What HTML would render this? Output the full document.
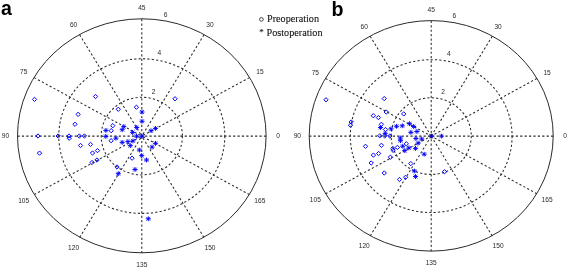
<!DOCTYPE html>
<html><head><meta charset="utf-8"><style>
html,body{margin:0;padding:0;background:#fff;}
body{width:567px;height:268px;overflow:hidden;}
svg{display:block;will-change:transform;}
.t{font-family:"Liberation Sans",sans-serif;font-size:7.7px;fill:#2a2a2a;}
.lg{font-family:"Liberation Serif",serif;font-size:10.2px;fill:#111;stroke:#111;stroke-width:0.1px;}
.pl{font-family:"Liberation Sans",sans-serif;font-weight:bold;font-size:20.5px;fill:#000;}
.d{fill:none;stroke:#0000ff;stroke-width:1.0;stroke-linejoin:round;}
.a{fill:none;stroke:#0000ff;stroke-width:0.95;}
.ax{fill:none;stroke:#0000ff;stroke-width:0.85;}
</style></head><body>
<svg width="567" height="268" viewBox="0 0 567 268">
<defs><filter id="bl" x="0" y="0" width="100%" height="100%"><feGaussianBlur stdDeviation="0.35"/></filter></defs>
<rect width="567" height="268" fill="#fff"/>
<g filter="url(#bl)">
<ellipse cx="141.8" cy="136.1" rx="40.60" ry="38.80" fill="none" stroke="#2a2a2a" stroke-width="1.05" stroke-dasharray="2.2 2.2"/>
<ellipse cx="141.8" cy="136.1" rx="83.00" ry="77.30" fill="none" stroke="#2a2a2a" stroke-width="1.05" stroke-dasharray="2.2 2.2"/>
<line x1="266.10" y1="136.10" x2="141.80" y2="136.10" stroke="#2a2a2a" stroke-width="1.05" stroke-dasharray="2.2 2.2"/>
<line x1="249.45" y1="77.60" x2="141.80" y2="136.10" stroke="#2a2a2a" stroke-width="1.05" stroke-dasharray="2.2 2.2"/>
<line x1="203.95" y1="34.78" x2="141.80" y2="136.10" stroke="#2a2a2a" stroke-width="1.05" stroke-dasharray="2.2 2.2"/>
<line x1="141.80" y1="19.10" x2="141.80" y2="136.10" stroke="#2a2a2a" stroke-width="1.05" stroke-dasharray="2.2 2.2"/>
<line x1="79.65" y1="34.78" x2="141.80" y2="136.10" stroke="#2a2a2a" stroke-width="1.05" stroke-dasharray="2.2 2.2"/>
<line x1="34.15" y1="77.60" x2="141.80" y2="136.10" stroke="#2a2a2a" stroke-width="1.05" stroke-dasharray="2.2 2.2"/>
<line x1="17.50" y1="136.10" x2="141.80" y2="136.10" stroke="#2a2a2a" stroke-width="1.05" stroke-dasharray="2.2 2.2"/>
<line x1="34.15" y1="194.60" x2="141.80" y2="136.10" stroke="#2a2a2a" stroke-width="1.05" stroke-dasharray="2.2 2.2"/>
<line x1="79.65" y1="237.42" x2="141.80" y2="136.10" stroke="#2a2a2a" stroke-width="1.05" stroke-dasharray="2.2 2.2"/>
<line x1="141.80" y1="253.10" x2="141.80" y2="136.10" stroke="#2a2a2a" stroke-width="1.05" stroke-dasharray="2.2 2.2"/>
<line x1="203.95" y1="237.42" x2="141.80" y2="136.10" stroke="#2a2a2a" stroke-width="1.05" stroke-dasharray="2.2 2.2"/>
<line x1="249.45" y1="194.60" x2="141.80" y2="136.10" stroke="#2a2a2a" stroke-width="1.05" stroke-dasharray="2.2 2.2"/>
<ellipse cx="141.8" cy="135.8" rx="124.3" ry="117.0" fill="none" stroke="#2a2a2a" stroke-width="1"/>
<text transform="translate(278.16 138.41) scale(0.86 1)" text-anchor="middle" class="t">0</text>
<text transform="translate(259.89 74.23) scale(0.86 1)" text-anchor="middle" class="t">15</text>
<text transform="translate(209.98 27.25) scale(0.86 1)" text-anchor="middle" class="t">30</text>
<text transform="translate(141.80 10.06) scale(0.86 1)" text-anchor="middle" class="t">45</text>
<text transform="translate(73.62 27.25) scale(0.86 1)" text-anchor="middle" class="t">60</text>
<text transform="translate(23.71 74.23) scale(0.86 1)" text-anchor="middle" class="t">75</text>
<text transform="translate(5.44 138.41) scale(0.86 1)" text-anchor="middle" class="t">90</text>
<text transform="translate(23.71 202.58) scale(0.86 1)" text-anchor="middle" class="t">105</text>
<text transform="translate(73.62 249.56) scale(0.86 1)" text-anchor="middle" class="t">120</text>
<text transform="translate(141.80 266.76) scale(0.86 1)" text-anchor="middle" class="t">135</text>
<text transform="translate(209.98 249.56) scale(0.86 1)" text-anchor="middle" class="t">150</text>
<text transform="translate(259.89 202.58) scale(0.86 1)" text-anchor="middle" class="t">165</text>
<text transform="translate(153.70 93.56) scale(0.86 1)" text-anchor="middle" class="t">2</text>
<text transform="translate(159.40 55.16) scale(0.86 1)" text-anchor="middle" class="t">4</text>
<text transform="translate(165.70 17.16) scale(0.86 1)" text-anchor="middle" class="t">6</text>
</g><g>
<path d="M32.35 99.40L34.50 97.25L36.65 99.40L34.50 101.55Z" class="d"/>
<path d="M93.35 96.50L95.50 94.35L97.65 96.50L95.50 98.65Z" class="d"/>
<path d="M172.85 98.75L175.00 96.60L177.15 98.75L175.00 100.90Z" class="d"/>
<path d="M75.95 114.40L78.10 112.25L80.25 114.40L78.10 116.55Z" class="d"/>
<path d="M72.85 124.25L75.00 122.10L77.15 124.25L75.00 126.40Z" class="d"/>
<path d="M116.15 109.30L118.30 107.15L120.45 109.30L118.30 111.45Z" class="d"/>
<path d="M134.25 107.20L136.40 105.05L138.55 107.20L136.40 109.35Z" class="d"/>
<path d="M110.65 125.70L112.80 123.55L114.95 125.70L112.80 127.85Z" class="d"/>
<path d="M109.05 130.70L111.20 128.55L113.35 130.70L111.20 132.85Z" class="d"/>
<path d="M35.85 136.00L38.00 133.85L40.15 136.00L38.00 138.15Z" class="d"/>
<path d="M56.05 136.00L58.20 133.85L60.35 136.00L58.20 138.15Z" class="d"/>
<path d="M66.85 136.00L69.00 133.85L71.15 136.00L69.00 138.15Z" class="d"/>
<path d="M67.05 138.20L69.20 136.05L71.35 138.20L69.20 140.35Z" class="d"/>
<path d="M77.15 136.00L79.30 133.85L81.45 136.00L79.30 138.15Z" class="d"/>
<path d="M82.25 136.00L84.40 133.85L86.55 136.00L84.40 138.15Z" class="d"/>
<path d="M108.95 140.70L111.10 138.55L113.25 140.70L111.10 142.85Z" class="d"/>
<path d="M37.35 153.10L39.50 150.95L41.65 153.10L39.50 155.25Z" class="d"/>
<path d="M78.35 145.50L80.50 143.35L82.65 145.50L80.50 147.65Z" class="d"/>
<path d="M88.35 144.40L90.50 142.25L92.65 144.40L90.50 146.55Z" class="d"/>
<path d="M90.35 153.00L92.50 150.85L94.65 153.00L92.50 155.15Z" class="d"/>
<path d="M95.35 150.60L97.50 148.45L99.65 150.60L97.50 152.75Z" class="d"/>
<path d="M89.85 162.50L92.00 160.35L94.15 162.50L92.00 164.65Z" class="d"/>
<path d="M94.85 160.00L97.00 157.85L99.15 160.00L97.00 162.15Z" class="d"/>
<path d="M114.85 167.00L117.00 164.85L119.15 167.00L117.00 169.15Z" class="d"/>
<path d="M129.95 158.20L132.10 156.05L134.25 158.20L132.10 160.35Z" class="d"/>
<path d="M139.45 112.00H144.55M142.00 109.60V114.40" class="a"/>
<path d="M140.15 110.15L143.85 113.85M140.15 113.85L143.85 110.15" class="ax"/>
<path d="M139.45 121.30H144.55M142.00 118.90V123.70" class="a"/>
<path d="M140.15 119.45L143.85 123.15M140.15 123.15L143.85 119.45" class="ax"/>
<path d="M121.25 126.60H126.35M123.80 124.20V129.00" class="a"/>
<path d="M121.95 124.75L125.65 128.45M121.95 128.45L125.65 124.75" class="ax"/>
<path d="M119.65 129.70H124.75M122.20 127.30V132.10" class="a"/>
<path d="M120.35 127.85L124.05 131.55M120.35 131.55L124.05 127.85" class="ax"/>
<path d="M134.15 127.50H139.25M136.70 125.10V129.90" class="a"/>
<path d="M134.85 125.65L138.55 129.35M134.85 129.35L138.55 125.65" class="ax"/>
<path d="M103.35 130.40H108.45M105.90 128.00V132.80" class="a"/>
<path d="M104.05 128.55L107.75 132.25M104.05 132.25L107.75 128.55" class="ax"/>
<path d="M148.45 130.80H153.55M151.00 128.40V133.20" class="a"/>
<path d="M149.15 128.95L152.85 132.65M149.15 132.65L152.85 128.95" class="ax"/>
<path d="M152.95 128.40H158.05M155.50 126.00V130.80" class="a"/>
<path d="M153.65 126.55L157.35 130.25M153.65 130.25L157.35 126.55" class="ax"/>
<path d="M130.05 132.40H135.15M132.60 130.00V134.80" class="a"/>
<path d="M130.75 130.55L134.45 134.25M130.75 134.25L134.45 130.55" class="ax"/>
<path d="M103.25 136.40H108.35M105.80 134.00V138.80" class="a"/>
<path d="M103.95 134.55L107.65 138.25M103.95 138.25L107.65 134.55" class="ax"/>
<path d="M113.35 138.20H118.45M115.90 135.80V140.60" class="a"/>
<path d="M114.05 136.35L117.75 140.05M114.05 140.05L117.75 136.35" class="ax"/>
<path d="M133.95 136.20H139.05M136.50 133.80V138.60" class="a"/>
<path d="M134.65 134.35L138.35 138.05M134.65 138.05L138.35 134.35" class="ax"/>
<path d="M139.35 136.20H144.45M141.90 133.80V138.60" class="a"/>
<path d="M140.05 134.35L143.75 138.05M140.05 138.05L143.75 134.35" class="ax"/>
<path d="M119.65 142.40H124.75M122.20 140.00V144.80" class="a"/>
<path d="M120.35 140.55L124.05 144.25M120.35 144.25L124.05 140.55" class="ax"/>
<path d="M125.35 141.60H130.45M127.90 139.20V144.00" class="a"/>
<path d="M126.05 139.75L129.75 143.45M126.05 143.45L129.75 139.75" class="ax"/>
<path d="M130.45 140.90H135.55M133.00 138.50V143.30" class="a"/>
<path d="M131.15 139.05L134.85 142.75M131.15 142.75L134.85 139.05" class="ax"/>
<path d="M127.75 145.60H132.85M130.30 143.20V148.00" class="a"/>
<path d="M128.45 143.75L132.15 147.45M128.45 147.45L132.15 143.75" class="ax"/>
<path d="M152.95 143.30H158.05M155.50 140.90V145.70" class="a"/>
<path d="M153.65 141.45L157.35 145.15M153.65 145.15L157.35 141.45" class="ax"/>
<path d="M149.45 147.10H154.55M152.00 144.70V149.50" class="a"/>
<path d="M150.15 145.25L153.85 148.95M150.15 148.95L153.85 145.25" class="ax"/>
<path d="M136.85 150.00H141.95M139.40 147.60V152.40" class="a"/>
<path d="M137.55 148.15L141.25 151.85M137.55 151.85L141.25 148.15" class="ax"/>
<path d="M139.15 155.60H144.25M141.70 153.20V158.00" class="a"/>
<path d="M139.85 153.75L143.55 157.45M139.85 157.45L143.55 153.75" class="ax"/>
<path d="M143.95 160.00H149.05M146.50 157.60V162.40" class="a"/>
<path d="M144.65 158.15L148.35 161.85M144.65 161.85L148.35 158.15" class="ax"/>
<path d="M115.75 173.70H120.85M118.30 171.30V176.10" class="a"/>
<path d="M116.45 171.85L120.15 175.55M116.45 175.55L120.15 171.85" class="ax"/>
<path d="M132.45 169.50H137.55M135.00 167.10V171.90" class="a"/>
<path d="M133.15 167.65L136.85 171.35M133.15 171.35L136.85 167.65" class="ax"/>
<path d="M145.75 218.80H150.85M148.30 216.40V221.20" class="a"/>
<path d="M146.45 216.95L150.15 220.65M146.45 220.65L150.15 216.95" class="ax"/>
</g><g filter="url(#bl)">
<ellipse cx="431.2" cy="136.1" rx="40.05" ry="38.30" fill="none" stroke="#2a2a2a" stroke-width="1.05" stroke-dasharray="2.2 2.2"/>
<ellipse cx="431.2" cy="136.1" rx="80.90" ry="76.45" fill="none" stroke="#2a2a2a" stroke-width="1.05" stroke-dasharray="2.2 2.2"/>
<line x1="553.20" y1="136.10" x2="431.20" y2="136.10" stroke="#2a2a2a" stroke-width="1.05" stroke-dasharray="2.2 2.2"/>
<line x1="536.86" y1="78.47" x2="431.20" y2="136.10" stroke="#2a2a2a" stroke-width="1.05" stroke-dasharray="2.2 2.2"/>
<line x1="492.20" y1="36.29" x2="431.20" y2="136.10" stroke="#2a2a2a" stroke-width="1.05" stroke-dasharray="2.2 2.2"/>
<line x1="431.20" y1="20.85" x2="431.20" y2="136.10" stroke="#2a2a2a" stroke-width="1.05" stroke-dasharray="2.2 2.2"/>
<line x1="370.20" y1="36.29" x2="431.20" y2="136.10" stroke="#2a2a2a" stroke-width="1.05" stroke-dasharray="2.2 2.2"/>
<line x1="325.54" y1="78.47" x2="431.20" y2="136.10" stroke="#2a2a2a" stroke-width="1.05" stroke-dasharray="2.2 2.2"/>
<line x1="309.20" y1="136.10" x2="431.20" y2="136.10" stroke="#2a2a2a" stroke-width="1.05" stroke-dasharray="2.2 2.2"/>
<line x1="325.54" y1="193.73" x2="431.20" y2="136.10" stroke="#2a2a2a" stroke-width="1.05" stroke-dasharray="2.2 2.2"/>
<line x1="370.20" y1="235.91" x2="431.20" y2="136.10" stroke="#2a2a2a" stroke-width="1.05" stroke-dasharray="2.2 2.2"/>
<line x1="431.20" y1="251.35" x2="431.20" y2="136.10" stroke="#2a2a2a" stroke-width="1.05" stroke-dasharray="2.2 2.2"/>
<line x1="492.20" y1="235.91" x2="431.20" y2="136.10" stroke="#2a2a2a" stroke-width="1.05" stroke-dasharray="2.2 2.2"/>
<line x1="536.86" y1="193.73" x2="431.20" y2="136.10" stroke="#2a2a2a" stroke-width="1.05" stroke-dasharray="2.2 2.2"/>
<ellipse cx="431.2" cy="135.85" rx="122.0" ry="115.25" fill="none" stroke="#2a2a2a" stroke-width="1"/>
<text transform="translate(565.03 138.41) scale(0.86 1)" text-anchor="middle" class="t">0</text>
<text transform="translate(547.10 75.19) scale(0.86 1)" text-anchor="middle" class="t">15</text>
<text transform="translate(498.12 28.92) scale(0.86 1)" text-anchor="middle" class="t">30</text>
<text transform="translate(431.20 11.98) scale(0.86 1)" text-anchor="middle" class="t">45</text>
<text transform="translate(364.28 28.92) scale(0.86 1)" text-anchor="middle" class="t">60</text>
<text transform="translate(315.30 75.19) scale(0.86 1)" text-anchor="middle" class="t">75</text>
<text transform="translate(297.37 138.41) scale(0.86 1)" text-anchor="middle" class="t">90</text>
<text transform="translate(315.30 201.62) scale(0.86 1)" text-anchor="middle" class="t">105</text>
<text transform="translate(364.28 247.90) scale(0.86 1)" text-anchor="middle" class="t">120</text>
<text transform="translate(431.20 264.84) scale(0.86 1)" text-anchor="middle" class="t">135</text>
<text transform="translate(498.12 247.90) scale(0.86 1)" text-anchor="middle" class="t">150</text>
<text transform="translate(547.10 201.62) scale(0.86 1)" text-anchor="middle" class="t">165</text>
<text transform="translate(443.10 94.26) scale(0.86 1)" text-anchor="middle" class="t">2</text>
<text transform="translate(448.90 55.96) scale(0.86 1)" text-anchor="middle" class="t">4</text>
<text transform="translate(454.30 18.16) scale(0.86 1)" text-anchor="middle" class="t">6</text>
</g><g>
<path d="M323.85 99.80L326.00 97.65L328.15 99.80L326.00 101.95Z" class="d"/>
<path d="M382.10 98.60L384.25 96.45L386.40 98.60L384.25 100.75Z" class="d"/>
<path d="M384.05 112.00L386.20 109.85L388.35 112.00L386.20 114.15Z" class="d"/>
<path d="M401.55 113.90L403.70 111.75L405.85 113.90L403.70 116.05Z" class="d"/>
<path d="M371.15 115.70L373.30 113.55L375.45 115.70L373.30 117.85Z" class="d"/>
<path d="M376.25 117.60L378.40 115.45L380.55 117.60L378.40 119.75Z" class="d"/>
<path d="M349.05 122.00L351.20 119.85L353.35 122.00L351.20 124.15Z" class="d"/>
<path d="M348.35 125.20L350.50 123.05L352.65 125.20L350.50 127.35Z" class="d"/>
<path d="M379.25 124.30L381.40 122.15L383.55 124.30L381.40 126.45Z" class="d"/>
<path d="M383.35 129.50L385.50 127.35L387.65 129.50L385.50 131.65Z" class="d"/>
<path d="M377.65 135.80L379.80 133.65L381.95 135.80L379.80 137.95Z" class="d"/>
<path d="M382.55 136.00L384.70 133.85L386.85 136.00L384.70 138.15Z" class="d"/>
<path d="M387.65 136.00L389.80 133.85L391.95 136.00L389.80 138.15Z" class="d"/>
<path d="M363.35 146.30L365.50 144.15L367.65 146.30L365.50 148.45Z" class="d"/>
<path d="M379.25 145.30L381.40 143.15L383.55 145.30L381.40 147.45Z" class="d"/>
<path d="M371.25 155.10L373.40 152.95L375.55 155.10L373.40 157.25Z" class="d"/>
<path d="M376.45 153.50L378.60 151.35L380.75 153.50L378.60 155.65Z" class="d"/>
<path d="M369.05 163.00L371.20 160.85L373.35 163.00L371.20 165.15Z" class="d"/>
<path d="M388.25 157.20L390.40 155.05L392.55 157.20L390.40 159.35Z" class="d"/>
<path d="M390.65 148.50L392.80 146.35L394.95 148.50L392.80 150.65Z" class="d"/>
<path d="M390.95 150.30L393.10 148.15L395.25 150.30L393.10 152.45Z" class="d"/>
<path d="M395.25 147.40L397.40 145.25L399.55 147.40L397.40 149.55Z" class="d"/>
<path d="M404.15 143.80L406.30 141.65L408.45 143.80L406.30 145.95Z" class="d"/>
<path d="M382.10 173.00L384.25 170.85L386.40 173.00L384.25 175.15Z" class="d"/>
<path d="M397.35 179.50L399.50 177.35L401.65 179.50L399.50 181.65Z" class="d"/>
<path d="M403.45 177.30L405.60 175.15L407.75 177.30L405.60 179.45Z" class="d"/>
<path d="M408.65 163.60L410.80 161.45L412.95 163.60L410.80 165.75Z" class="d"/>
<path d="M442.35 171.75L444.50 169.60L446.65 171.75L444.50 173.90Z" class="d"/>
<path d="M377.95 127.50H383.05M380.50 125.10V129.90" class="a"/>
<path d="M378.65 125.65L382.35 129.35M378.65 129.35L382.35 125.65" class="ax"/>
<path d="M382.65 133.40H387.75M385.20 131.00V135.80" class="a"/>
<path d="M383.35 131.55L387.05 135.25M383.35 135.25L387.05 131.55" class="ax"/>
<path d="M388.45 128.80H393.55M391.00 126.40V131.20" class="a"/>
<path d="M389.15 126.95L392.85 130.65M389.15 130.65L392.85 126.95" class="ax"/>
<path d="M393.95 126.30H399.05M396.50 123.90V128.70" class="a"/>
<path d="M394.65 124.45L398.35 128.15M394.65 128.15L398.35 124.45" class="ax"/>
<path d="M399.75 125.80H404.85M402.30 123.40V128.20" class="a"/>
<path d="M400.45 123.95L404.15 127.65M400.45 127.65L404.15 123.95" class="ax"/>
<path d="M406.95 123.70H412.05M409.50 121.30V126.10" class="a"/>
<path d="M407.65 121.85L411.35 125.55M407.65 125.55L411.35 121.85" class="ax"/>
<path d="M411.05 126.50H416.15M413.60 124.10V128.90" class="a"/>
<path d="M411.75 124.65L415.45 128.35M411.75 128.35L415.45 124.65" class="ax"/>
<path d="M408.35 132.40H413.45M410.90 130.00V134.80" class="a"/>
<path d="M409.05 130.55L412.75 134.25M409.05 134.25L412.75 130.55" class="ax"/>
<path d="M414.35 131.50H419.45M416.90 129.10V133.90" class="a"/>
<path d="M415.05 129.65L418.75 133.35M415.05 133.35L418.75 129.65" class="ax"/>
<path d="M397.75 138.00H402.85M400.30 135.60V140.40" class="a"/>
<path d="M398.45 136.15L402.15 139.85M398.45 139.85L402.15 136.15" class="ax"/>
<path d="M397.95 140.70H403.05M400.50 138.30V143.10" class="a"/>
<path d="M398.65 138.85L402.35 142.55M398.65 142.55L402.35 138.85" class="ax"/>
<path d="M413.35 138.50H418.45M415.90 136.10V140.90" class="a"/>
<path d="M414.05 136.65L417.75 140.35M414.05 140.35L417.75 136.65" class="ax"/>
<path d="M419.15 139.00H424.25M421.70 136.60V141.40" class="a"/>
<path d="M419.85 137.15L423.55 140.85M419.85 140.85L423.55 137.15" class="ax"/>
<path d="M428.95 136.10H434.05M431.50 133.70V138.50" class="a"/>
<path d="M429.65 134.25L433.35 137.95M429.65 137.95L433.35 134.25" class="ax"/>
<path d="M438.85 136.10H443.95M441.40 133.70V138.50" class="a"/>
<path d="M439.55 134.25L443.25 137.95M439.55 137.95L443.25 134.25" class="ax"/>
<path d="M415.45 143.20H420.55M418.00 140.80V145.60" class="a"/>
<path d="M416.15 141.35L419.85 145.05M416.15 145.05L419.85 141.35" class="ax"/>
<path d="M400.15 146.20H405.25M402.70 143.80V148.60" class="a"/>
<path d="M400.85 144.35L404.55 148.05M400.85 148.05L404.55 144.35" class="ax"/>
<path d="M406.35 147.90H411.45M408.90 145.50V150.30" class="a"/>
<path d="M407.05 146.05L410.75 149.75M407.05 149.75L410.75 146.05" class="ax"/>
<path d="M412.95 148.40H418.05M415.50 146.00V150.80" class="a"/>
<path d="M413.65 146.55L417.35 150.25M413.65 150.25L417.35 146.55" class="ax"/>
<path d="M402.25 150.60H407.35M404.80 148.20V153.00" class="a"/>
<path d="M402.95 148.75L406.65 152.45M402.95 152.45L406.65 148.75" class="ax"/>
<path d="M421.65 154.20H426.75M424.20 151.80V156.60" class="a"/>
<path d="M422.35 152.35L426.05 156.05M422.35 156.05L426.05 152.35" class="ax"/>
<path d="M411.85 171.00H416.95M414.40 168.60V173.40" class="a"/>
<path d="M412.55 169.15L416.25 172.85M412.55 172.85L416.25 169.15" class="ax"/>
<path d="M412.95 176.50H418.05M415.50 174.10V178.90" class="a"/>
<path d="M413.65 174.65L417.35 178.35M413.65 178.35L417.35 174.65" class="ax"/>
</g><g filter="url(#bl)">
</g><g>
<circle cx="261.4" cy="19.4" r="1.85" fill="none" stroke="#111" stroke-width="0.75"/>
<text x="267.0" y="22.2" class="lg">Preoperation</text>
<text x="259.2" y="35.3" class="lg" style="font-size:9px">*</text>
<text x="266.5" y="36.2" class="lg">Postoperation</text>
<text transform="translate(1.0 15.1) scale(0.93 1)" class="pl" style="font-size:21px">a</text>
<text transform="translate(331.6 15.6) scale(1 1)" class="pl" style="font-size:19.6px">b</text>
</g>
</svg>
</body></html>
